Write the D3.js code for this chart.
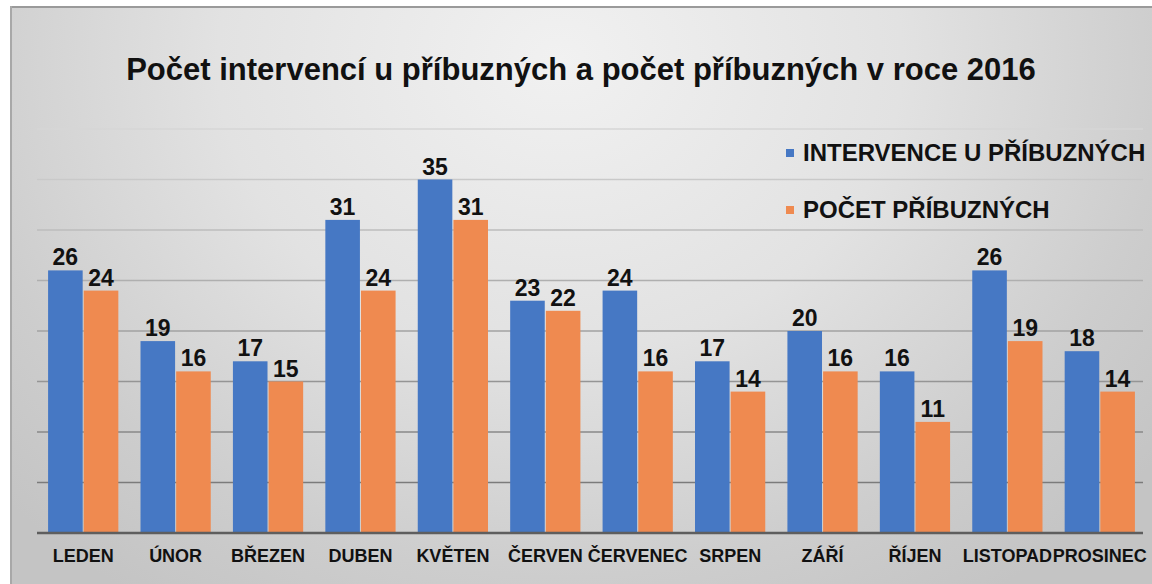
<!DOCTYPE html>
<html>
<head>
<meta charset="utf-8">
<script src="https://cdn.jsdelivr.net/npm/d3@7"></script>
<style>
  html, body { margin: 0; padding: 0; background: #ffffff; }
  svg { display: block; font-family: "Liberation Sans", Arial, sans-serif; }
</style>
</head>
<body>
<svg id="chart" width="1152" height="584"></svg>
<script>
const months = ["LEDEN","ÚNOR","BŘEZEN","DUBEN","KVĚTEN","ČERVEN","ČERVENEC","SRPEN","ZÁŘÍ","ŘÍJEN","LISTOPAD","PROSINEC"];
const intervence = [26,19,17,31,35,23,24,17,20,16,26,18];
const pocet = [24,16,15,24,31,22,16,14,16,11,19,14];
const seriesNames = ["INTERVENCE U PŘÍBUZNÝCH","POČET PŘÍBUZNÝCH"];
const seriesColors = ["#4678c4","#ef8a50"];
const yTicks = [0,5,10,15,20,25,30,35,40];
const title = "Počet intervencí u příbuzných a počet příbuzných v roce 2016";

const svg = d3.select("#chart");
const W = 1152, H = 584;

const defs = svg.append("defs");
const rg = defs.append("radialGradient").attr("id","bg")
  .attr("gradientUnits","userSpaceOnUse")
  .attr("cx",560).attr("cy",60).attr("r",760)
  .attr("gradientTransform","translate(560,60) scale(1,0.85) translate(-560,-60)");
rg.append("stop").attr("offset","0").attr("stop-color","#f1f1f1");
rg.append("stop").attr("offset","0.45").attr("stop-color","#e2e2e2");
rg.append("stop").attr("offset","0.8").attr("stop-color","#cdcdcd");
rg.append("stop").attr("offset","1").attr("stop-color","#c4c4c4");

svg.append("rect").attr("x",10).attr("y",6).attr("width",W-10).attr("height",H-6)
  .attr("fill","url(#bg)");
svg.append("line").attr("x1",10).attr("x2",W).attr("y1",7).attr("y2",7)
  .attr("stroke","#9a9a9a").attr("stroke-width",2);
svg.append("line").attr("x1",11).attr("x2",11).attr("y1",6).attr("y2",H)
  .attr("stroke","#a8a8a8").attr("stroke-width",2);

const x0 = d3.scaleBand().domain(months).range([37,1146]).paddingInner(0.24).paddingOuter(0.12);
const x1 = d3.scaleBand().domain([0,1]).range([0, x0.bandwidth()]).paddingInner(0.03);
const y = d3.scaleLinear().domain([0,40]).range([533,129]);

const gridColor = d3.scaleLinear().domain([40,0]).range(["#d6d6d6","#6e6e6e"]);
svg.append("g").selectAll("line").data(yTicks.filter(d=>d>0)).join("line")
  .attr("x1",37).attr("x2",1143)
  .attr("y1",d=>y(d)).attr("y2",d=>y(d))
  .attr("stroke",d=>gridColor(d)).attr("stroke-width",1.3);

const data = months.map((m,i)=>({m, vals:[intervence[i], pocet[i]]}));
const groups = svg.append("g").selectAll("g").data(data).join("g")
  .attr("transform",d=>`translate(${x0(d.m)},0)`);
groups.selectAll("rect").data(d=>d.vals.map((v,k)=>({v,k}))).join("rect")
  .attr("x",d=>x1(d.k)).attr("width",x1.bandwidth())
  .attr("y",d=>y(d.v)).attr("height",d=>y(0)-y(d.v))
  .attr("fill",d=>seriesColors[d.k]);
groups.selectAll("text").data(d=>d.vals.map((v,k)=>({v,k}))).join("text")
  .attr("x",d=>x1(d.k)+x1.bandwidth()/2).attr("y",d=>y(d.v)-5)
  .attr("text-anchor","middle").attr("font-weight","bold").attr("font-size",23)
  .attr("fill","#111").text(d=>d.v);

// x axis
const xAxis = svg.append("g").attr("transform","translate(0,533)")
  .call(d3.axisBottom(x0).tickSize(0).tickPadding(0));
xAxis.select(".domain").attr("stroke","#5e5e5e").attr("stroke-width",2.5).attr("d","M37,0H1143");
xAxis.selectAll("text").attr("font-size",18).attr("font-weight","bold")
  .attr("fill","#111").attr("dy",0).attr("y",29)
  .attr("font-family","Liberation Sans, Arial, sans-serif");

// title
svg.append("text").attr("x",581).attr("y",80).attr("text-anchor","middle")
  .attr("font-size",31).attr("font-weight","bold").attr("fill","#111").text(title);

// legend
const leg = svg.append("g").selectAll("g").data(seriesNames).join("g")
  .attr("transform",(d,i)=>`translate(786,${149 + i*57})`);
leg.append("rect").attr("width",8).attr("height",8).attr("fill",(d,i)=>seriesColors[i]);
leg.append("text").attr("x",17).attr("y",12).attr("font-size",24).attr("font-weight","bold")
  .attr("fill","#111").text(d=>d);
</script>
</body>
</html>
